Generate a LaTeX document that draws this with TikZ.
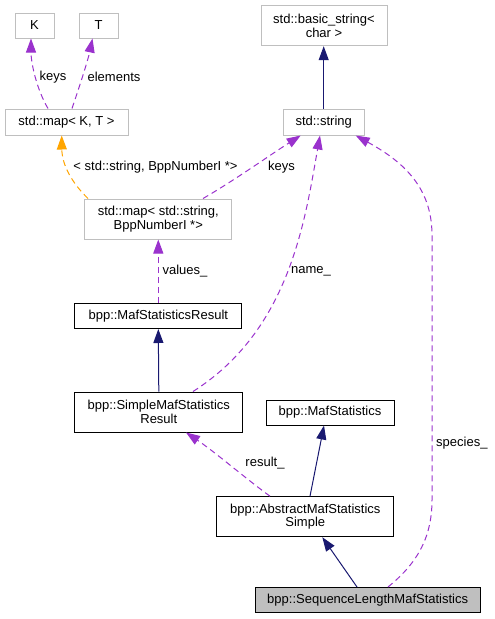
\documentclass[tikz,border=0pt]{standalone}
\usepackage{fontspec}
\setmainfont{Liberation Sans}
\usetikzlibrary{arrows.meta}
\definecolor{boxgray}{HTML}{BFBFBF}
\definecolor{dep}{HTML}{9A32CD}
\definecolor{navy}{HTML}{191970}
\definecolor{tmpl}{HTML}{FFA500}
\begin{document}
\begin{tikzpicture}[x=1pt,y=-1pt,
  every node/.style={font=\fontsize{13}{13.5}\selectfont, inner sep=0pt, align=center},
  graybox/.style={draw=boxgray, line width=1pt, fill=white},
  blackbox/.style={draw=black, line width=1pt, fill=white},
  mainbox/.style={draw=black, line width=1pt, fill=boxgray},
  usage/.style={draw=dep, line width=1pt, dash pattern=on 6pt off 4pt, arrows={-{Triangle[length=14pt,width=10pt,fill=dep,color=dep]}}},
  inherit/.style={draw=navy, line width=1pt, arrows={-{Triangle[length=14pt,width=10pt,fill=navy,color=navy]}}},
  tinst/.style={draw=tmpl, line width=1pt, dash pattern=on 6pt off 4pt, arrows={-{Triangle[length=14pt,width=10pt,fill=tmpl,color=tmpl]}}},
  lbl/.style={fill=none}
]
\useasboundingbox (0,0) rectangle (495,619);

\node[graybox, minimum width=39pt, minimum height=25pt] (K) at (34.5,25.5) {K};
\node[graybox, minimum width=39pt, minimum height=25pt] (T) at (98.5,25.5) {T};
\node[graybox, minimum width=123pt, minimum height=26pt] (mapKT) at (66.5,122) {std::map\textless{} K, T \textgreater{}};
\node[graybox, minimum width=126pt, minimum height=40pt] (bstr) at (324,25.7) {std::basic\_string\textless{}\\char \textgreater{}};
\node[graybox, minimum width=81pt, minimum height=26pt] (str) at (323.7,122) {std::string};
\node[graybox, minimum width=147pt, minimum height=40pt] (mapS) at (158.3,219) {std::map\textless{} std::string,\\BppNumberI *\textgreater{}};
\node[blackbox, minimum width=167pt, minimum height=25pt] (MSR) at (158.3,316) {bpp::MafStatisticsResult};
\node[blackbox, minimum width=168pt, minimum height=40pt] (SMSR) at (158.8,412) {bpp::SimpleMafStatistics\\Result};
\node[blackbox, minimum width=128pt, minimum height=25pt] (MS) at (330,412.5) {bpp::MafStatistics};
\node[blackbox, minimum width=177pt, minimum height=40pt] (AMSS) at (305.3,516.7) {bpp::AbstractMafStatistics\\Simple};
\node[mainbox, minimum width=225pt, minimum height=25pt] (SLMS) at (367.7,600) {bpp::SequenceLengthMafStatistics};

% std::map<K,T> -> K, T
\draw[usage] ([xshift=-18.5pt]mapKT.north) .. controls (36,88) and (31,62) .. ([xshift=-3.5pt]K.south);
\node[lbl] (lkeys1) at (53,77) {keys};
\draw[usage] ([xshift=5.5pt]mapKT.north) .. controls (80,85) and (88,60) .. ([xshift=-6pt]T.south);
\node[lbl] (lelem) at (114,77) {elements};

% template instance
\draw[tinst] ([xshift=-70.3pt]mapS.north) .. controls (72,183) and (62,165) .. ([xshift=-4.8pt]mapKT.south);
\node[lbl] (ltmpl) at (155.5,167) {\textless{} std::string, BppNumberI *\textgreater{}};

% keys -> std::string
\draw[usage] ([xshift=44.7pt]mapS.north) .. controls (235,180) and (270,155) .. ([xshift=-23pt]str.south);
\node[lbl] (lkeys2) at (281.5,167) {keys};

% basic_string <- string
\draw[inherit] (str.north) -- (str.north |- bstr.south);

% values_
\draw[usage] (MSR.north) -- (mapS.south);
\node[lbl] (lvalues) at (185,271) {values\_};

% SMSR -> MSR
\draw[inherit] (SMSR.north) -- (MSR.south);

% name_
\draw[usage] ([xshift=34.2pt]SMSR.north) .. controls (290,330) and (305,220) .. ([xshift=-3.7pt]str.south);
\node[lbl] (lname) at (311,271) {name\_};

% result_
\draw[usage] ([xshift=-35.3pt]AMSS.north) .. controls (245,478) and (215,452) .. ([xshift=27.2pt]SMSR.south);
\node[lbl] (lresult) at (265,463) {result\_};

% AMSS -> MS
\draw[inherit] ([xshift=4.7pt]AMSS.north) -- ([xshift=-6pt]MS.south);

% SLMS -> AMSS
\draw[inherit] ([xshift=-10.7pt]SLMS.north) -- ([xshift=17pt]AMSS.south);

% species_
\draw[usage] ([xshift=20.3pt]SLMS.north) .. controls (415,565) and (432,540) .. (432,500)
  -- (432,235) .. controls (432,185) and (400,160) .. ([xshift=32pt]str.south);
\node[lbl, anchor=west] (lspecies) at (436,443) {species\_};
\end{tikzpicture}
\end{document}
